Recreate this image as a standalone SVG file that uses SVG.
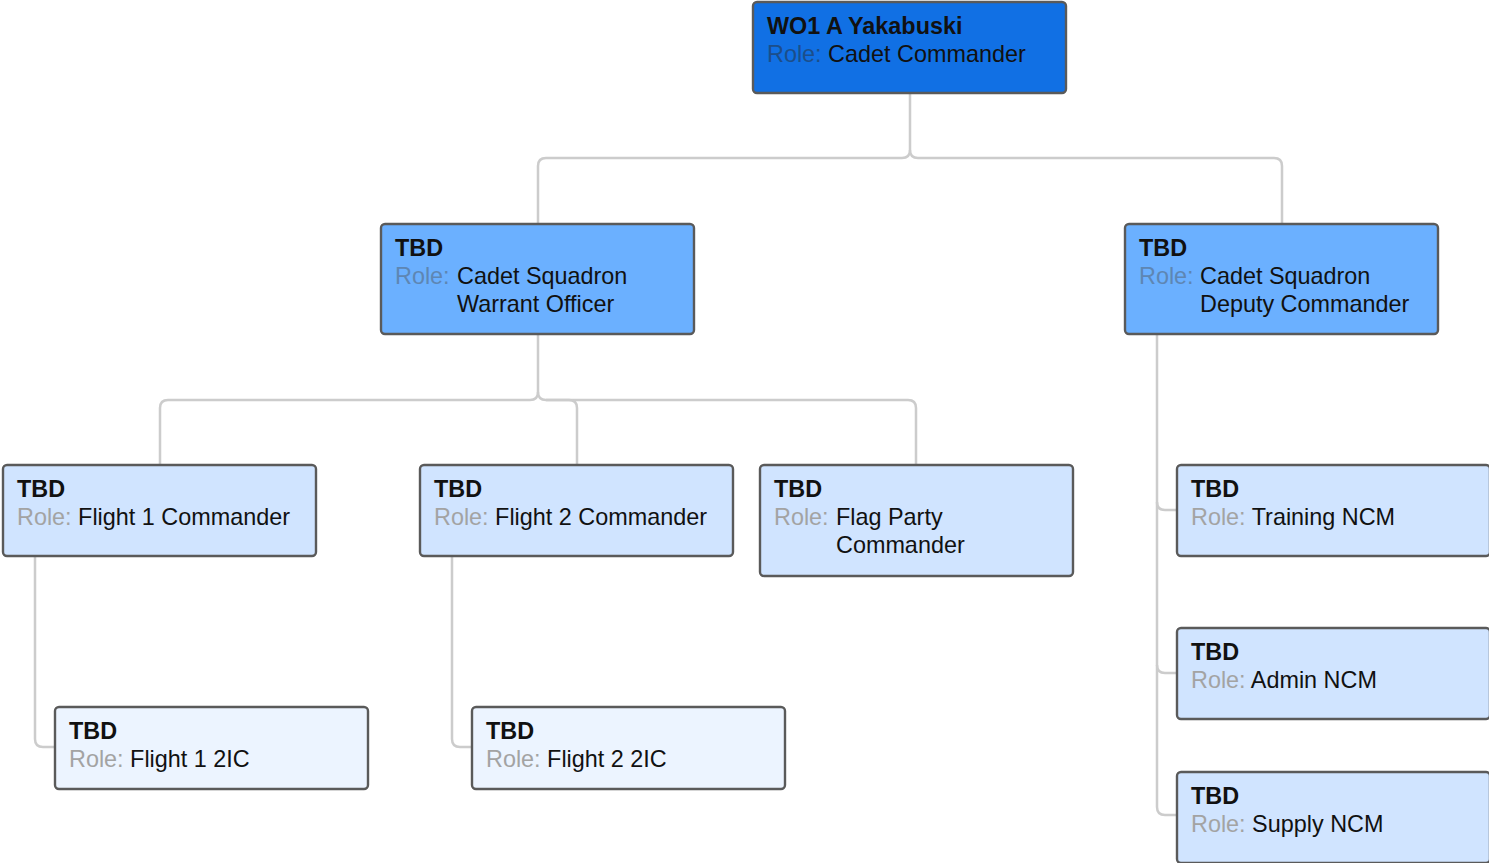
<svg xmlns="http://www.w3.org/2000/svg" width="1489" height="863" viewBox="0 0 1489 863">
<style>
.box{stroke:#5a5a5a;stroke-width:2.4}
.l1{fill:#1170E4}
.l2{fill:#6BB0FF}
.l3{fill:#D0E4FF}
.l4{fill:#ECF4FF}
text{font-family:"Liberation Sans",Arial,sans-serif;font-size:23.4px;fill:#111}
.n{font-weight:bold}
.r1{fill:#1C4E8A}
.r2{fill:#5E86B3}
.r3{fill:#A3A3A3}
.conn path{fill:none;stroke:#CCCCCC;stroke-width:2.5}
</style>
<rect width="1489" height="863" fill="#ffffff"/>
<g class="conn" id="connectors">
<path d="M910 93 V150 Q910 158 902 158 H546 Q538 158 538 166 V224"/>
<path d="M910 150 Q910 158 918 158 H1274 Q1282 158 1282 166 V224"/>
<path d="M538 334 V392 Q538 400 530 400 H168 Q160 400 160 408 V465"/>
<path d="M538 392 Q538 400 546 400 H908 Q916 400 916 408 V465"/>
<path d="M546 400 H569 Q577 400 577 408 V465"/>
<path d="M35 556 V739 Q35 747 43 747 H55"/>
<path d="M452 556 V739 Q452 747 460 747 H472"/>
<path d="M1157 334 V807 Q1157 815 1165 815 H1177"/>
<path d="M1157 502 Q1157 510 1165 510 H1177"/>
<path d="M1157 665 Q1157 673 1165 673 H1177"/>
</g>
<g id="n-top">
<rect class="box l1" x="753" y="2" width="313" height="91" rx="4"/>
<text class="n" x="767" y="34">WO1 A Yakabuski</text>
<text x="767" y="62"><tspan class="r1">Role:</tspan> Cadet Commander</text>
</g>
<g id="n-cswo">
<rect class="box l2" x="381" y="224" width="313" height="110" rx="4"/>
<text class="n" x="395" y="256">TBD</text>
<text x="395" y="284"><tspan class="r2">Role:</tspan></text>
<text x="457" y="284">Cadet Squadron</text>
<text x="457" y="312">Warrant Officer</text>
</g>
<g id="n-csdc">
<rect class="box l2" x="1125" y="224" width="313" height="110" rx="4"/>
<text class="n" x="1139" y="256">TBD</text>
<text x="1139" y="284"><tspan class="r2">Role:</tspan></text>
<text x="1200" y="284">Cadet Squadron</text>
<text x="1200" y="312">Deputy Commander</text>
</g>
<g id="n-f1c">
<rect class="box l3" x="3" y="465" width="313" height="91" rx="4"/>
<text class="n" x="17" y="497">TBD</text>
<text x="17" y="525"><tspan class="r3">Role:</tspan> Flight 1 Commander</text>
</g>
<g id="n-f2c">
<rect class="box l3" x="420" y="465" width="313" height="91" rx="4"/>
<text class="n" x="434" y="497">TBD</text>
<text x="434" y="525"><tspan class="r3">Role:</tspan> Flight 2 Commander</text>
</g>
<g id="n-fpc">
<rect class="box l3" x="760" y="465" width="313" height="111" rx="4"/>
<text class="n" x="774" y="497">TBD</text>
<text x="774" y="525"><tspan class="r3">Role:</tspan></text>
<text x="836" y="525">Flag Party</text>
<text x="836" y="553">Commander</text>
</g>
<g id="n-tncm">
<rect class="box l3" x="1177" y="465" width="313" height="91" rx="4"/>
<text class="n" x="1191" y="497">TBD</text>
<text x="1191" y="525"><tspan class="r3">Role:</tspan> Training NCM</text>
</g>
<g id="n-ancm">
<rect class="box l3" x="1177" y="628" width="313" height="91" rx="4"/>
<text class="n" x="1191" y="660">TBD</text>
<text x="1191" y="688"><tspan class="r3">Role:</tspan> Admin NCM</text>
</g>
<g id="n-sncm">
<rect class="box l3" x="1177" y="772" width="313" height="91" rx="4"/>
<text class="n" x="1191" y="804">TBD</text>
<text x="1191" y="832"><tspan class="r3">Role:</tspan> Supply NCM</text>
</g>
<g id="n-f12ic">
<rect class="box l4" x="55" y="707" width="313" height="82" rx="4"/>
<text class="n" x="69" y="739">TBD</text>
<text x="69" y="767"><tspan class="r3">Role:</tspan> Flight 1 2IC</text>
</g>
<g id="n-f22ic">
<rect class="box l4" x="472" y="707" width="313" height="82" rx="4"/>
<text class="n" x="486" y="739">TBD</text>
<text x="486" y="767"><tspan class="r3">Role:</tspan> Flight 2 2IC</text>
</g>
</svg>
